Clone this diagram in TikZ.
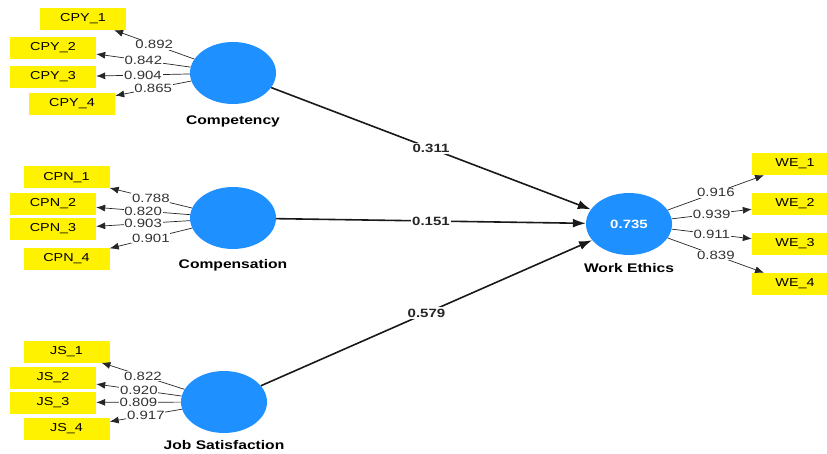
\documentclass[tikz,border=0pt]{standalone}
\usepackage{fontspec}
\setmainfont{Liberation Sans}[FakeStretch=1.25]
\usetikzlibrary{arrows.meta,positioning,shapes.geometric}
\definecolor{plsblue}{RGB}{30,144,255}
\tikzset{
  latent/.style={ellipse, fill=plsblue, minimum width=86pt, minimum height=62pt, inner sep=0pt},
  indicator/.style={rectangle, fill=yellow, minimum width=86pt, minimum height=22pt, inner sep=0pt, font=\fontsize{11.5}{12}\selectfont},
  lvname/.style={font=\fontsize{12.5}{13}\selectfont\bfseries},
  loading/.style={-{Latex[length=9pt,width=7pt]}, line width=0.7pt, black!85},
  loadval/.style={fill=white, inner sep=0.8pt, font=\fontsize{12}{12}\selectfont, text=black!80},
  path/.style={-{Latex[length=13pt,width=9pt]}, line width=1.6pt, black!90},
  pathval/.style={fill=white, inner sep=1.5pt, font=\fontsize{12}{12}\selectfont\bfseries, text=black!85}
}
\begin{document}
\begin{tikzpicture}[x=1pt, y=-1pt]
    \useasboundingbox (0,0) rectangle (827,454);
    % latent variables
    \node[latent] (cpy) at (233,73) {};
    \node[latent] (cpn) at (233,218) {};
    \node[latent] (js) at (224,402) {};
    \node[latent, text=white, font=\fontsize{12}{12}\selectfont\bfseries] (we) at (629,224) {0.735};
    \node[lvname, below=8pt of cpy] (cpylabel) {Competency};
    \node[lvname, below=7pt of cpn] (cpnlabel) {Compensation};
    \node[lvname, below=4pt of js] (jslabel) {Job Satisfaction};
    \node[lvname, below=5pt of we] (welabel) {Work Ethics};

    % Competency indicators
    \node[indicator] (cpy1) at (83,19) {CPY\_1};
    \node[indicator] (cpy2) at (53,48) {CPY\_2};
    \node[indicator] (cpy3) at (53,77) {CPY\_3};
    \node[indicator] (cpy4) at (72,104) {CPY\_4};
    \draw[loading] (cpy) -- (cpy1) node[loadval, pos=0.5] {0.892};
    \draw[loading] (cpy) -- (cpy2) node[loadval, pos=0.5] {0.842};
    \draw[loading] (cpy) -- (cpy3) node[loadval, pos=0.5] {0.904};
    \draw[loading] (cpy) -- (cpy4) node[loadval, pos=0.5] {0.865};

    % Compensation indicators
    \node[indicator] (cpn1) at (66.5,177.5) {CPN\_1};
    \node[indicator] (cpn2) at (53,204) {CPN\_2};
    \node[indicator] (cpn3) at (53,229) {CPN\_3};
    \node[indicator] (cpn4) at (66.5,259) {CPN\_4};
    \draw[loading] (cpn) -- (cpn1) node[loadval, pos=0.5] {0.788};
    \draw[loading] (cpn) -- (cpn2) node[loadval, pos=0.5] {0.820};
    \draw[loading] (cpn) -- (cpn3) node[loadval, pos=0.5] {0.903};
    \draw[loading] (cpn) -- (cpn4) node[loadval, pos=0.5] {0.901};

    % Job Satisfaction indicators
    \node[indicator] (js1) at (66.5,351.5) {JS\_1};
    \node[indicator] (js2) at (53,378) {JS\_2};
    \node[indicator] (js3) at (53,402.5) {JS\_3};
    \node[indicator] (js4) at (66.5,429) {JS\_4};
    \draw[loading] (js) -- (js1) node[loadval, pos=0.5] {0.822};
    \draw[loading] (js) -- (js2) node[loadval, pos=0.5] {0.920};
    \draw[loading] (js) -- (js3) node[loadval, pos=0.5] {0.809};
    \draw[loading] (js) -- (js4) node[loadval, pos=0.5] {0.917};

    % Work Ethics indicators
    \node[indicator] (we1) at (795,164) {WE\_1};
    \node[indicator] (we2) at (795,204) {WE\_2};
    \node[indicator] (we3) at (795,244) {WE\_3};
    \node[indicator] (we4) at (795,284) {WE\_4};
    \draw[loading] (we) -- (we1) node[loadval, pos=0.5] {0.916};
    \draw[loading] (we) -- (we2) node[loadval, pos=0.5] {0.939};
    \draw[loading] (we) -- (we3) node[loadval, pos=0.5] {0.911};
    \draw[loading] (we) -- (we4) node[loadval, pos=0.5] {0.839};

    % structural paths
    \draw[path] (cpy) -- (we) node[pathval, pos=0.5] {0.311};
    \draw[path] (cpn) -- (we) node[pathval, pos=0.5] {0.151};
    \draw[path] (js) -- (we) node[pathval, pos=0.5] {0.579};
\end{tikzpicture}
\end{document}
